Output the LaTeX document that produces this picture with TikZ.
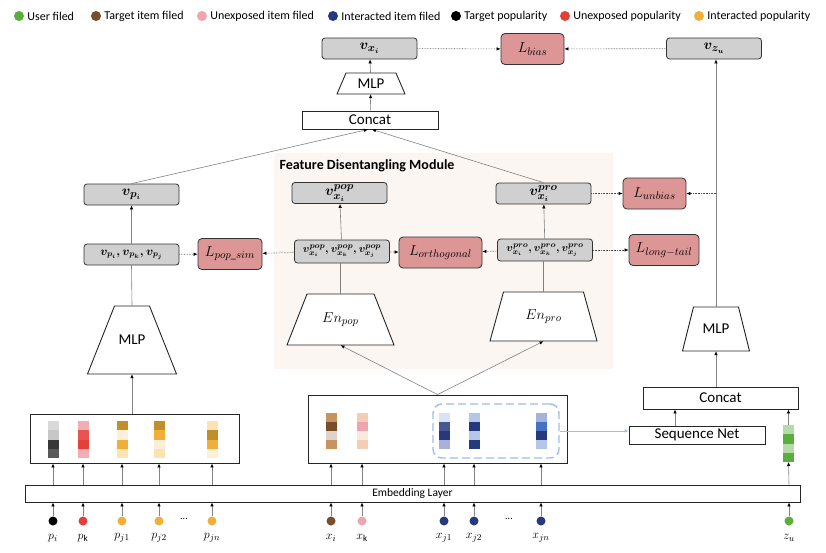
\documentclass[tikz,border=0pt]{standalone}
\usepackage{amsmath}
\usepackage{bm}
\usepackage{fontspec}
\setmainfont{Carlito}
\usepackage{xcolor}
\usepackage{tikz}
\usetikzlibrary{
	arrows.meta,
	calc,
	positioning
}
\definecolor{LossRed}{RGB}{221,150,150}
\definecolor{BoxGray}{RGB}{208,208,208}
\definecolor{LineGray}{RGB}{130,130,130}
\definecolor{ModuleBg}{RGB}{251,246,242}
\definecolor{SeqBlue}{RGB}{160,190,228}
\definecolor{UserGreen}{HTML}{5AAE3E}
\definecolor{ItemBrown}{HTML}{7A4E2A}
\definecolor{ItemPink}{HTML}{F0A5AE}
\definecolor{ItemNavy}{HTML}{26397F}
\definecolor{PopRed}{HTML}{E4403A}
\definecolor{PopOrange}{HTML}{EFAF38}
\definecolor{GoldDark}{HTML}{BF8F28}
\definecolor{CreamA}{HTML}{FBE3B3}
\definecolor{CreamB}{HTML}{FDF0D9}
\definecolor{TanA}{HTML}{C6945E}
\definecolor{PeachA}{HTML}{F5CDB4}
\definecolor{BlueMid}{HTML}{4472C4}
\definecolor{BlueLight}{HTML}{B4C7E7}
\definecolor{BlueLav}{HTML}{A9B1D9}

\tikzset{
	vbox/.style={draw=black!80, fill=BoxGray, rounded corners=3pt, line width=0.8pt,
		minimum width=95pt, minimum height=21pt, inner sep=0pt, font=\fontsize{15}{17}\selectfont\boldmath},
	lossbox/.style={draw=black!80, fill=LossRed, rounded corners=4pt, line width=0.8pt,
		minimum height=31pt, inner sep=2pt, font=\fontsize{15}{17}\selectfont},
	plainbox/.style={draw=black!85, fill=white, line width=0.9pt, inner sep=0pt,
		font=\fontsize{15}{17}\selectfont},
	trapline/.style={draw=black!85, fill=white, line width=0.9pt},
	trapbody/.style={inner sep=0pt, font=\fontsize{15}{17}\selectfont},
	flow/.style={LineGray, line width=0.6pt, -{Latex[black, length=4pt, width=3.5pt]}},
	link/.style={LineGray, line width=0.6pt},
	lossflow/.style={black!70, densely dotted, line width=0.6pt, -{Latex[black, length=4pt, width=3.5pt]}},
	inpt/.style={circle, inner sep=0pt, minimum size=9pt},
	legdot/.style={circle, inner sep=0pt, minimum size=10pt},
	legtext/.style={right, inner sep=0pt, font=\fontsize{12}{14}\selectfont}
}

% one embedding vector: x centre, top, cell height, four cell colours
\newcommand{\embvec}[4]{%
	\foreach \cc [count=\k from 0] in {#4}
		\fill[\cc] ({#1-5.5},{#2+#3*\k}) rectangle ++(11,#3);}
% trapezoid block: name, x, y, bottom width, top width, height, text
\newcommand{\trapblock}[7]{%
	\filldraw[trapline] ({#2-#4/2},{#3+#6/2}) -- ({#2-#5/2},{#3-#6/2})
		-- ({#2+#5/2},{#3-#6/2}) -- ({#2+#4/2},{#3+#6/2}) -- cycle;
	\node[trapbody, minimum width=#5, minimum height=#6] (#1) at (#2,#3) {#7};}

\begin{document}
\begin{tikzpicture}[x=1pt, y=-1pt]
	\useasboundingbox (0,0) rectangle (826,552);

	% legend
	\foreach \lx/\lc/\lt [count=\n] in {19/UserGreen/User filed, 96/ItemBrown/Target item filed,
		202/ItemPink/Unexposed  item filed, 333/ItemNavy/Interacted item filed,
		456/black/Target popularity, 565/PopRed/Unexposed popularity, 699/PopOrange/Interacted popularity}
	{
		\node[legdot, fill=\lc] (leg\n) at (\lx,16) {};
		\node[legtext] at ([xshift=3pt]leg\n.east) {\lt};
	}

	% feature disentangling module
	\fill[ModuleBg] (274,153) rectangle (613,369);
	\node[font=\fontsize{14}{16}\selectfont\bfseries, anchor=west] (fdm) at (276,166) {Feature Disentangling Module};

	% top row
	\node[vbox] (vxi) at (369.5,48.5) {$\bm{v}_{x_i}$};
	\node[lossbox, minimum width=63pt] (Lbias) at (532.5,49) {$L_{bias}$};
	\node[vbox] (vzu) at (714,48.5) {$\bm{v}_{z_u}$};
	\trapblock{mlpT}{371}{83.5}{68}{50}{21}{MLP}
	\node[plainbox, minimum width=136pt, minimum height=18pt] (concatT) at (370,120) {Concat};

	% popularity branch
	\node[vbox] (vpi) at (131.5,194.5) {$\bm{v}_{p_i}$};
	\node[vbox, font=\fontsize{12}{14}\selectfont\boldmath] (ptri) at (131.5,254.5) {$\bm{v}_{p_i},\bm{v}_{p_k},\bm{v}_{p_j}$};
	\node[lossbox, minimum width=64pt] (Lpop) at (230,254) {$L_{pop\_sim}$};
	\trapblock{mlpL}{132}{340}{89}{35}{68}{MLP}

	% disentangling
	\node[vbox] (vpop) at (339.5,193) {$\bm{v}_{x_i}^{pop}$};
	\node[vbox, minimum height=23pt, font=\fontsize{11}{13}\selectfont\boldmath] (poptri) at (342,251.5)
		{$\bm{v}_{x_i}^{pop},\bm{v}_{x_k}^{pop},\bm{v}_{x_j}^{pop}$};
	\node[lossbox, minimum width=83pt] (Lorth) at (440.5,252.5) {$L_{orthogonal}$};
	\node[vbox, minimum height=22pt, font=\fontsize{11}{13}\selectfont\boldmath] (protri) at (545,250)
		{$\bm{v}_{x_i}^{pro},\bm{v}_{x_k}^{pro},\bm{v}_{x_j}^{pro}$};
	\node[vbox] (vpro) at (543.5,193.5) {$\bm{v}_{x_i}^{pro}$};
	\node[lossbox, minimum width=63pt] (Lunb) at (654.5,193.5) {$L_{unbias}$};
	\node[lossbox, minimum width=70pt] (Llong) at (664,250) {$L_{long-tail}$};
	\trapblock{enpop}{340.5}{319.5}{107}{67}{51}{$En_{pop}$}
	\trapblock{enpro}{543.5}{316.5}{107}{80}{49}{$En_{pro}$}

	% user branch
	\trapblock{mlpR}{716}{329}{67}{45}{44}{MLP}
	\node[plainbox, minimum width=155pt, minimum height=22pt] (concatR) at (720.5,398) {Concat};
	\node[plainbox, minimum width=136pt, minimum height=18pt] (seqnet) at (697,435) {Sequence Net};
	\coordinate (seqout) at (675,426);

	% embedding boxes
	\node[plainbox, minimum width=209pt, minimum height=49pt] (pbox) at (134.5,438.5) {};
	\node[plainbox, minimum width=259pt, minimum height=68pt] (xbox) at (437.5,429) {};
	\node[draw=SeqBlue, line width=1.4pt, dash pattern=on 8pt off 4pt, rounded corners=9pt,
		minimum width=126pt, minimum height=54pt] (seqgrp) at (496,431) {};
	\node[plainbox, minimum width=775pt, minimum height=17pt, font=\fontsize{11.5}{13}\selectfont] (emb) at (412.5,493.5) {Embedding Layer};

	% vectors
	\embvec{53}{421}{9.25}{black!15, black!22, black!78, black!65}
	\embvec{83}{421}{9.25}{ItemPink!90, PopRed!80!ItemPink, PopRed, ItemPink!90}
	\embvec{122}{421}{9.25}{GoldDark, CreamB, PopOrange, CreamA}
	\embvec{159}{421}{9.25}{GoldDark, PopOrange, CreamB, CreamA}
	\embvec{212}{421}{9.25}{CreamA, GoldDark, PopOrange, CreamB}
	\embvec{331}{413}{9}{TanA, ItemBrown, ItemBrown!25, TanA}
	\embvec{362}{413}{9}{PeachA, ItemPink, PeachA!45, PeachA}
	\embvec{444}{413}{9}{BlueLight!50, ItemNavy!85, ItemNavy, BlueLav}
	\embvec{474}{413}{9}{BlueLight, ItemNavy, BlueLight, ItemNavy}
	\embvec{541}{413}{9}{BlueLav, BlueMid, ItemNavy, BlueLight}
	\embvec{788.5}{425}{9.25}{UserGreen!45, UserGreen, UserGreen!45, UserGreen}
	\coordinate (gvec) at (788.5,425);
	\coordinate (gvecb) at (788.5,462);

	% inputs
	\foreach \ix/\nm/\lab/\cl/\bx in {53/pi/p_i/black/pbox, 83/pk/p_{\mathrm{k}}/PopRed/pbox,
		122/pja/p_{j1}/PopOrange/pbox, 159/pjb/p_{j2}/PopOrange/pbox, 212/pjn/p_{jn}/PopOrange/pbox,
		331/xi/x_i/ItemBrown/xbox, 362/xk/x_{\mathrm{k}}/ItemPink/xbox,
		444/xja/x_{j1}/ItemNavy/xbox, 474/xjb/x_{j2}/ItemNavy/xbox, 541/xjn/x_{jn}/ItemNavy/xbox}
	{
		\node[inpt, fill=\cl] (in\nm) at (\ix,521) {};
		\node[font=\fontsize{13}{15}\selectfont] at (\ix,538) {$\lab$};
		\draw[flow] (in\nm) -- (emb.south -| in\nm);
		\draw[flow] (emb.north -| in\nm) -- (\bx.south -| in\nm);
	}
	\node[inpt, fill=UserGreen] (inzu) at (789,521) {};
	\node[font=\fontsize{13}{15}\selectfont] at (789,538) {$z_u$};
	\draw[flow] (inzu) -- (emb.south -| inzu);
	\draw[flow] (emb.north -| inzu) -- (gvecb);
	\node at (184,519) {...};
	\node at (509,519) {...};

	% connections
	\draw[flow] (pbox.north -| mlpL) -- (mlpL.south);
	\draw[link] (mlpL.north) -- (ptri.south);
	\draw[flow] (ptri) -- (vpi);
	\draw[flow] (vpi.north) -- ([xshift=-2pt]concatT.south);
	\draw[flow] (vpro.north) -- ([xshift=2pt]concatT.south);
	\draw[flow] (concatT) -- (mlpT);
	\draw[flow] (mlpT) -- (vxi);
	\draw[flow] (xbox.north) -- (enpop.south);
	\draw[flow] (xbox.north) -- (enpro.south);
	\draw[link] (enpop.north) -- (poptri.south -| enpop);
	\draw[link] (enpro.north) -- (protri.south -| enpro);
	\draw[flow] (poptri) -- (vpop);
	\draw[flow] (protri) -- (vpro);
	\draw[flow, SeqBlue, -{Latex[SeqBlue, length=4pt, width=3.5pt]}] (seqgrp.east) -- (seqgrp.east -| seqnet.west);
	\draw[flow] (seqout) -- (concatR.south -| seqout);
	\draw[flow] (gvec) -- (concatR.south -| gvec);
	\draw[flow] (concatR.north -| mlpR) -- (mlpR.south);
	\draw[flow] (mlpR.north) -- (vzu.south -| mlpR);

	% losses
	\draw[lossflow] (vxi) -- (Lbias);
	\draw[lossflow] (vzu) -- (Lbias);
	\draw[lossflow] (ptri) -- (Lpop);
	\draw[lossflow] (poptri) -- (Lpop);
	\draw[lossflow] (poptri) -- (Lorth);
	\draw[lossflow] (protri) -- (Lorth);
	\draw[lossflow] (protri) -- (Llong);
	\draw[lossflow] (vpro) -- (Lunb);
	\draw[lossflow] (Lunb -| mlpR) -- (Lunb);
\end{tikzpicture}
\end{document}
